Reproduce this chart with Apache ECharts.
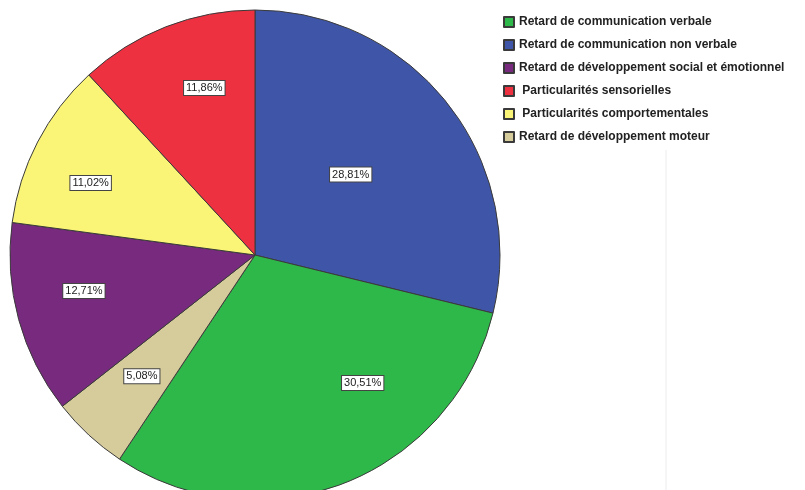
<!DOCTYPE html>
<html>
<head>
<meta charset="utf-8">
<script src="https://cdn.jsdelivr.net/npm/echarts@6/dist/echarts.min.js"></script>
<style>
  html, body { margin: 0; padding: 0; background: #fff; }
  #pie { width: 805px; height: 490px; }
</style>
</head>
<body>
<div id="pie"></div>
<script>
// categories, in drawing order (clockwise from top)
var names = [
    'Retard de communication non verbale',
    'Retard de communication verbale',
    'Retard de développement moteur',
    'Retard de développement social et émotionnel',
    'Particularités comportementales',
    'Particularités sensorielles'
];
// percentages
var values = [28.81, 30.51, 5.08, 12.71, 11.02, 11.86];
var colors = ['#3f56a8', '#2fb84a', '#d6cb9b', '#772a7e', '#fbf577', '#ee3140'];
// legend order
var legendOrder = [
    'Retard de communication verbale',
    'Retard de communication non verbale',
    'Retard de développement social et émotionnel',
    'Particularités sensorielles',
    'Particularités comportementales',
    'Retard de développement moteur'
];
// label shifts away from the default inside spot
var labelShift = [[-3, -3], [62, 11], [-28, 29], [-50, 3], [-53, -14], [-5, -50]];

var pieChart = echarts.init(document.getElementById('pie'));

var pieData = [];
for (var i = 0; i < names.length; i++) {
    pieData.push({
        name: names[i],
        value: values[i],
        itemStyle: { color: colors[i] },
        label: { offset: labelShift[i] }
    });
}

pieChart.setOption({
    animation: false,
    legend: {
        orient: 'vertical',
        left: 503,
        top: 16,
        padding: 0,
        icon: 'rect',
        itemWidth: 10,
        itemHeight: 10,
        itemGap: 11,
        data: legendOrder,
        formatter: function (n) {
            // the two "Particularités" lines sit a little further right
            return n.indexOf('Particularit') === 0 ? ' ' + n : n;
        },
        textStyle: {
            fontFamily: 'Liberation Sans, Arial, sans-serif',
            fontSize: 12,
            fontWeight: 'bold',
            color: '#222'
        }
    },
    graphic: [{
        type: 'line',
        shape: { x1: 666, y1: 150, x2: 666, y2: 490 },
        style: { stroke: '#ececec', lineWidth: 1 }
    }],
    series: [{
        type: 'pie',
        center: [255, 255],
        radius: 245,
        startAngle: 90,
        clockwise: true,
        avoidLabelOverlap: false,
        itemStyle: { borderColor: '#3a3a3a', borderWidth: 1 },
        label: {
            position: 'inside',
            formatter: function (p) {
                return p.value.toFixed(2).replace('.', ',') + '%';
            },
            fontFamily: 'Liberation Sans, Arial, sans-serif',
            fontSize: 11,
            color: '#222',
            backgroundColor: '#fff',
            borderColor: '#444',
            borderWidth: 1,
            padding: [2, 2, 1, 2]
        },
        labelLine: { show: false },
        emphasis: { disabled: true },
        data: pieData
    }]
});
</script>
</body>
</html>
